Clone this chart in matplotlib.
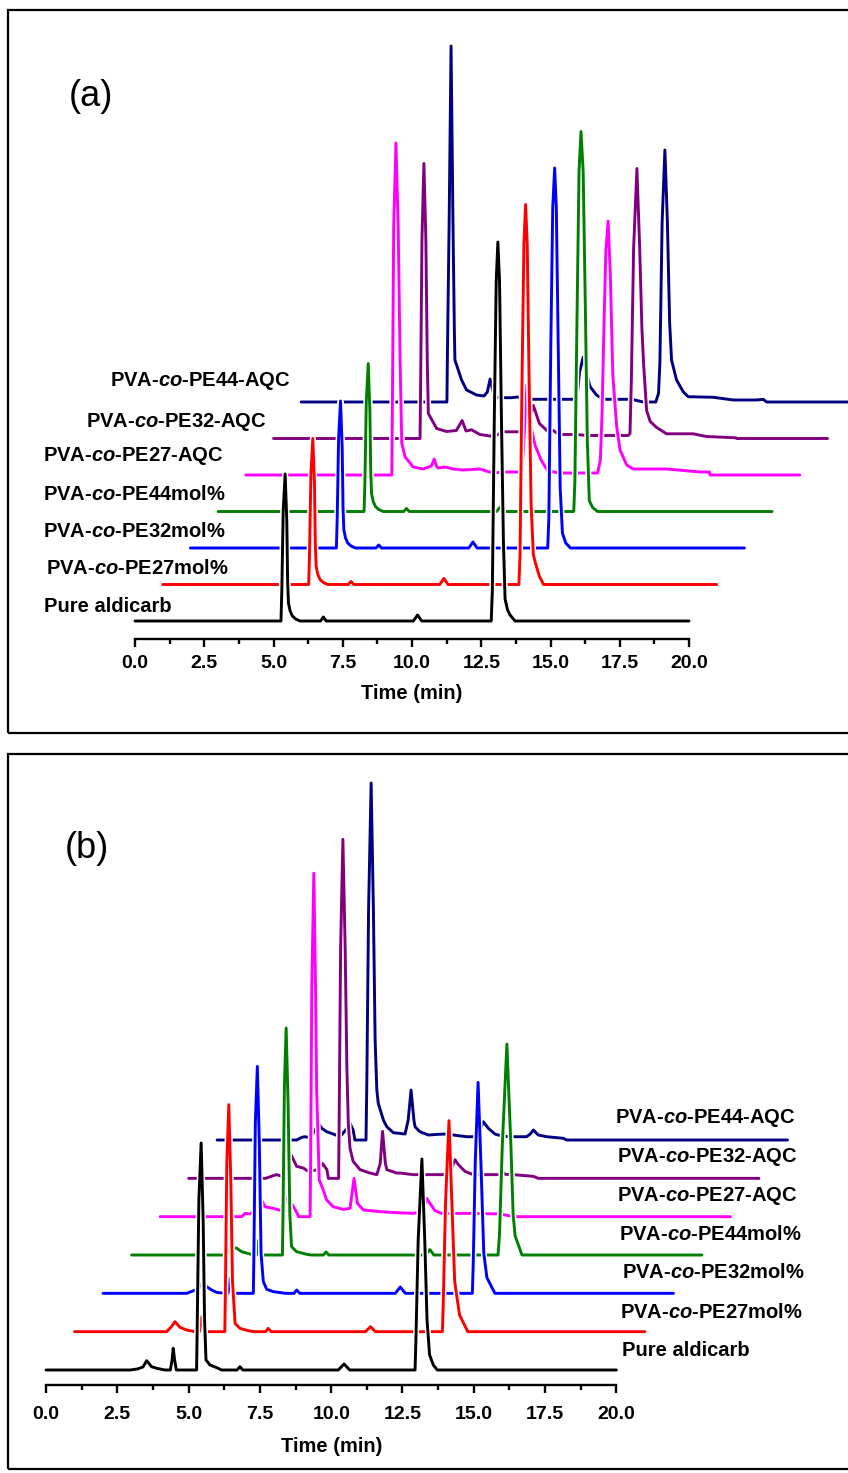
import numpy as np
import matplotlib.pyplot as plt
import matplotlib.patheffects as pe
from matplotlib.patches import Rectangle

plt.rcParams['font.family'] = ['Liberation Sans', 'DejaVu Sans']
plt.rcParams['font.weight'] = 'bold'
plt.rcParams['mathtext.fontset'] = 'custom'
plt.rcParams['mathtext.it'] = 'Liberation Sans:italic:bold'
plt.rcParams['mathtext.rm'] = 'Liberation Sans:bold'

# sample names, bottom trace first
samples = ['Pure aldicarb', 'PVA-$\\mathit{co}$-PE27mol%', 'PVA-$\\mathit{co}$-PE32mol%',
           'PVA-$\\mathit{co}$-PE44mol%', 'PVA-$\\mathit{co}$-PE27-AQC',
           'PVA-$\\mathit{co}$-PE32-AQC', 'PVA-$\\mathit{co}$-PE44-AQC']
colors = ['#000000', '#ff0000', '#0000ff', '#008000', '#ff00ff', '#800080', '#000080']

# ---- panel (a): time (min), signal (a.u.) ----
a_pure_t = [0, 5.27, 5.30, 5.35, 5.42, 5.48, 5.51, 5.54, 5.60, 5.68, 5.80, 5.96, 6.70, 6.80, 6.90,
            10.05, 10.20, 10.35, 12.86, 12.90, 12.97, 13.04, 13.10, 13.16, 13.23, 13.30, 13.36, 13.45, 13.54, 13.72, 20]
a_pure_y = [0, 0, 30, 110, 147, 100, 40, 18, 10, 5, 2, 0, 0, 4, 0,
            0, 6, 0, 0, 30, 200, 340, 379, 340, 200, 80, 22, 11, 6, 0, 0]
a_pe27_t = [0, 5.27, 5.30, 5.35, 5.42, 5.48, 5.51, 5.54, 5.60, 5.68, 5.80, 5.96, 6.70, 6.80, 6.90,
            10.0, 10.15, 10.3, 12.86, 12.90, 12.97, 13.04, 13.10, 13.16, 13.23, 13.30, 13.38, 13.45, 13.60, 13.75, 20]
a_pe27_y = [0, 0, 30, 110, 146, 100, 40, 18, 10, 5, 2, 0, 0, 3, 0,
            0, 6, 0, 0, 30, 200, 340, 380, 340, 200, 80, 30, 22, 8, 0, 0]
a_pe32_t = [0, 5.27, 5.30, 5.35, 5.42, 5.48, 5.51, 5.54, 5.60, 5.68, 5.80, 5.96, 6.70, 6.80, 6.90,
            10.05, 10.20, 10.35, 12.90, 12.94, 13.01, 13.08, 13.15, 13.21, 13.28, 13.35, 13.43, 13.55, 13.72, 20]
a_pe32_y = [0, 0, 30, 110, 147, 100, 40, 18, 10, 5, 2, 0, 0, 3, 0,
            0, 6, 0, 0, 30, 200, 340, 380, 340, 200, 60, 15, 5, 0, 0]
a_pe44_t = [0, 5.27, 5.30, 5.35, 5.42, 5.48, 5.51, 5.54, 5.60, 5.68, 5.80, 5.96, 6.70, 6.80, 6.90,
            10.05, 10.20, 10.35, 12.84, 12.88, 12.96, 13.03, 13.10, 13.18, 13.26, 13.33, 13.40, 13.52, 13.70, 20]
a_pe44_y = [0, 0, 30, 110, 148, 100, 40, 18, 10, 5, 2, 0, 0, 3, 0,
            0, 5, 0, 0, 30, 200, 340, 380, 340, 200, 70, 11, 4, 0, 0]
a_aqc27_t = [0, 5.27, 5.29, 5.34, 5.42, 5.50, 5.57, 5.63, 5.75, 5.93, 6.04, 6.40, 6.70, 6.80, 6.88,
             6.94, 7.19, 7.48, 7.84, 8.45, 8.92, 9.30, 9.97, 10.05, 10.15, 10.26, 10.44, 10.66, 10.90,
             11.34, 11.88, 12.40, 12.70, 12.80, 12.86, 12.93, 13.00, 13.08, 13.16, 13.25, 13.39, 13.51,
             13.75, 13.99, 15.19, 16.40, 16.74, 16.76, 20]
a_aqc27_y = [0, 0, 60, 250, 332, 250, 115, 32, 18, 12, 8, 6, 9, 16, 9,
             7, 8, 6, 5, 6, 2, 3, 3, 40, 90, 53, 30, 15, 4,
             2, 2, 2, 2, 15, 60, 150, 225, 254, 200, 100, 48, 25,
             10, 6, 6, 3, 3, 0, 0]
a_aqc32_t = [0, 5.29, 5.31, 5.36, 5.43, 5.50, 5.55, 5.59, 5.89, 6.25, 6.60, 6.81, 6.95, 7.15, 7.45,
             7.94, 8.30, 8.90, 9.20, 9.38, 9.60, 9.92, 10.10, 10.30, 10.95, 11.30, 12.80, 12.87, 12.92,
             13.00, 13.12, 13.22, 13.30, 13.36, 13.47, 13.60, 13.83, 14.19, 15.15, 15.63, 16.70, 16.72, 20]
a_aqc32_y = [0, 0, 50, 200, 275, 200, 80, 25, 10, 7, 8, 18, 7.5, 8.7, 4,
             2, 6.7, 6.7, 15, 33, 15, 6.7, 8, 4, 4, 3, 3, 5, 60,
             190, 270, 190, 110, 75, 28, 17, 11, 4.7, 4.7, 2, 0.7, 0, 0]
a_aqc44_t = [0, 5.26, 5.28, 5.34, 5.41, 5.48, 5.53, 5.55, 5.67, 5.79, 5.97, 6.33, 6.60, 6.72, 6.82,
             6.94, 7.05, 7.30, 7.60, 7.80, 8.30, 9.95, 10.05, 10.18, 10.30, 10.43, 10.66, 10.90, 11.93,
             12.35, 12.80, 12.90, 12.95, 13.03, 13.13, 13.22, 13.30, 13.37, 13.55, 13.79, 13.97, 14.88,
             15.60, 16.44, 16.68, 16.80, 20]
a_aqc44_y = [0, 0, 50, 178, 356, 178, 70, 42, 32, 22, 12, 7, 6, 10, 23,
             8.7, 4.7, 4.3, 4.3, 5, 2.7, 2.7, 30, 45, 28.7, 15.3, 7, 2.7, 2.7,
             0, 0, 8.7, 40, 180, 252, 180, 80, 42, 22, 10.3, 5.3, 4.7,
             2, 2, 2.7, 0, 0]

# ---- panel (b) ----
b_pure_t = [0, 2.95, 3.20, 3.40, 3.53, 3.70, 3.88, 4.17, 4.36, 4.42, 4.46, 4.51, 4.57, 5.28, 5.30,
            5.36, 5.44, 5.51, 5.56, 5.61, 5.75, 5.99, 6.16, 6.70, 6.80, 6.90, 10.25, 10.45, 10.65,
            12.94, 12.97, 13.05, 13.18, 13.28, 13.36, 13.45, 13.58, 13.72, 20]
b_pure_y = [0, 0, 1, 3, 9.3, 3.3, 1.7, 0, 0, 10, 21.7, 10, 0, 0, 40,
            170, 227, 150, 50, 10, 5, 2.3, 0, 0, 3.3, 0, 0, 6, 0,
            0, 30, 130, 211, 130, 50, 15, 5, 0, 0]
b_pe27_t = [0, 3.23, 3.40, 3.52, 3.70, 3.93, 4.22, 4.38, 4.46, 4.55, 5.27, 5.29, 5.34, 5.41, 5.48,
            5.54, 5.63, 5.80, 6.09, 6.30, 6.70, 6.79, 6.90, 10.20, 10.38, 10.55, 12.90, 12.93, 13.01,
            13.13, 13.23, 13.33, 13.50, 13.79, 20]
b_pe27_y = [0, 0, 5, 10, 4.3, 1.7, 0, 0, 15, 0, 0, 40, 170, 227, 150,
            50, 8.3, 3.3, 1, 0, 0, 3.3, 0, 0, 5, 0, 0, 30, 130,
            211, 130, 50, 16.7, 0, 0]
b_pe32_t = [0, 2.93, 3.30, 3.49, 3.63, 3.81, 3.98, 4.28, 4.38, 4.46, 4.55, 5.27, 5.29, 5.34, 5.41,
            5.48, 5.54, 5.62, 5.74, 5.97, 6.40, 6.70, 6.79, 6.90, 10.25, 10.42, 10.60, 12.95, 12.98,
            13.05, 13.15, 13.25, 13.35, 13.46, 13.74, 20]
b_pe32_y = [0, 0, 4, 10, 6.7, 3.3, 1, 0, 0, 15, 0, 0, 40, 170, 227,
            150, 40, 11.7, 4, 1.7, 0, 0, 3.3, 0, 0, 6.3, 0, 0, 30,
            130, 211, 130, 40, 15.7, 0, 0]
b_pe44_t = [0, 3.30, 3.45, 3.69, 3.86, 4.15, 4.27, 4.38, 4.46, 4.55, 5.29, 5.31, 5.36, 5.42, 5.49,
            5.55, 5.61, 5.79, 6.14, 6.30, 6.72, 6.82, 6.92, 10.30, 10.46, 10.60, 12.85, 12.90, 13.00,
            13.16, 13.30, 13.38, 13.45, 13.69, 20]
b_pe44_y = [0, 0, 8, 6.7, 3.3, 1, 0, 0, 15, 0, 0, 40, 170, 227, 150,
            40, 8.3, 3.3, 0.7, 0, 0, 3, 0, 0, 5.4, 0, 0, 20, 110,
            211, 110, 40, 19, 0, 0]
b_aqc27_t = [0, 2.86, 2.98, 3.15, 3.30, 3.50, 3.68, 3.97, 4.26, 4.45, 4.60, 4.72, 4.83, 4.85, 5.26,
             5.28, 5.32, 5.39, 5.45, 5.49, 5.58, 5.72, 5.84, 6.07, 6.42, 6.66, 6.80, 6.92, 7.13, 7.71,
             8.30, 8.87, 9.20, 9.35, 9.46, 9.64, 9.87, 10.93, 11.93, 12.38, 20]
b_aqc27_y = [0, 0, 3.3, 2.7, 6, 20, 10, 8.3, 6, 20, 13.3, 8, 2, 0, 0,
             60, 230, 343.5, 230, 126.7, 36.7, 26.7, 16.7, 10, 7.3, 8.3, 38.3, 13.3, 6.7, 5,
             4, 3.3, 5, 18.3, 13.3, 6, 3.3, 3.3, 2.7, 0, 0]
b_aqc32_t = [0, 2.70, 2.97, 3.09, 3.26, 3.40, 3.59, 3.79, 4.02, 4.20, 4.40, 4.55, 4.70, 4.85, 4.90,
             5.26, 5.28, 5.33, 5.41, 5.49, 5.55, 5.60, 5.66, 5.77, 6.01, 6.36, 6.60, 6.72, 6.80, 6.90,
             6.95, 7.30, 7.41, 7.88, 8.93, 9.20, 9.34, 9.46, 9.69, 9.98, 10.92, 10.98, 11.10, 11.38,
             12.09, 12.26, 20]
b_aqc32_y = [0, 0, 2.7, 3.7, 2, 8, 23.7, 12, 10.3, 7, 8, 8.7, 14.7, 8.7, 0,
             0, 60, 230, 339, 230, 110, 55, 30, 17, 8.7, 5.3, 3.7, 15, 47, 15,
             8.7, 5.3, 5.3, 3.7, 3.7, 8, 18.7, 13.7, 7, 3.7, 3.7, 7, 4, 3.7,
             2, 0, 0]
b_aqc44_t = [0, 2.79, 2.97, 3.08, 3.26, 3.40, 3.55, 3.67, 3.84, 4.07, 4.31, 4.45, 4.60, 4.66, 4.77,
             4.83, 5.22, 5.25, 5.31, 5.40, 5.48, 5.54, 5.60, 5.65, 5.83, 5.95, 6.18, 6.59, 6.70, 6.80,
             6.90, 6.94, 7.11, 7.41, 7.76, 8.05, 8.28, 8.75, 9.04, 9.20, 9.33, 9.51, 9.74, 9.98, 10.27,
             10.85, 10.98, 11.09, 11.26, 11.56, 12.14, 12.26, 20]
b_aqc44_y = [0, 0, 2.7, 3.3, 2.3, 8, 16.7, 11.7, 8.3, 6, 3.3, 8, 13.3, 16.7, 10,
             0, 0, 60, 230, 357, 230, 100, 50, 36.7, 20, 13.3, 7.3, 6, 20, 50,
             20, 13.3, 8.3, 5, 5.7, 6, 5, 3.3, 3.3, 8, 18.3, 11.7, 6, 4, 3.3,
             3.3, 6, 10, 5, 3.3, 1.7, 0, 0]

a_traces = [(a_pure_t, a_pure_y), (a_pe27_t, a_pe27_y), (a_pe32_t, a_pe32_y), (a_pe44_t, a_pe44_y),
            (a_aqc27_t, a_aqc27_y), (a_aqc32_t, a_aqc32_y), (a_aqc44_t, a_aqc44_y)]
b_traces = [(b_pure_t, b_pure_y), (b_pe27_t, b_pe27_y), (b_pe32_t, b_pe32_y), (b_pe44_t, b_pe44_y),
            (b_aqc27_t, b_aqc27_y), (b_aqc32_t, b_aqc32_y), (b_aqc44_t, b_aqc44_y)]

W, H = 848, 1473
fig = plt.figure(figsize=(W / 100, H / 100), dpi=100)


def panel(traces, x0, xs, base, dy, top, bottom, spine, pad, time_off, label_pos, tag, tag_pos):
    # axes spans the framed box; data y is in pixel-sized units above the black baseline
    ax = fig.add_axes([8 / W, 1 - bottom / H, (W - 8) / W, (bottom - top) / H])
    ax.set_xlim((8 - x0) / xs, (W - x0) / xs)
    ax.set_ylim(base - bottom, base - top)
    ax.patch.set_visible(False)
    lw = 2.1
    for i in range(len(traces) - 1, -1, -1):
        t, y = traces[i]
        ax.plot(np.array(t) + i, np.array(y) + i * dy, color=colors[i], lw=lw,
                solid_joinstyle='round', solid_capstyle='round', zorder=10 - i,
                path_effects=[pe.Stroke(linewidth=lw + 2.2, foreground='white'), pe.Normal()])
    for s in ['left', 'right', 'top']:
        ax.spines[s].set_visible(False)
    ax.spines['bottom'].set_bounds(0, 20)
    ax.spines['bottom'].set_position(('data', base - spine))
    ax.spines['bottom'].set_linewidth(1.7)
    ax.set_xticks(np.arange(0, 20.01, 2.5))
    ax.set_xticks(np.arange(1.25, 20, 2.5), minor=True)
    ax.set_xticklabels(['%.1f' % v for v in np.arange(0, 20.01, 2.5)])
    ax.tick_params(axis='x', which='major', direction='out', length=6, width=1.7,
                   labelsize=14, pad=pad)
    ax.tick_params(axis='x', which='minor', direction='out', length=3.5, width=1.7)
    ax.set_yticks([])
    ax.text(10, base - spine - time_off, 'Time (min)', ha='center', va='center', fontsize=14.5)
    for name, (px, py) in zip(samples, label_pos):
        fig.text(px / W, 1 - py / H, name, ha='left', va='center', fontsize=14.5)
    fig.text(tag_pos[0] / W, 1 - tag_pos[1] / H, tag, ha='center', va='center',
             fontsize=26, fontweight='normal')
    fig.add_artist(Rectangle((8 / W, 1 - bottom / H), 1.0, (bottom - top) / H,
                             transform=fig.transFigure, fill=False, lw=1.6, ec='black'))
    return ax


panel(a_traces, 135, 27.7, 621, 36.5, 10, 733, 639.5, 5, 54,
      [(44, 606), (46, 569), (43, 531), (43, 494), (43, 456), (86, 422), (110, 381)],
      '(a)', (91, 97))
panel(b_traces, 46, 28.52, 1370, 38.33, 754, 1469, 1385, 9, 61,
      [(622, 1350), (620, 1312), (622, 1273), (619, 1235), (617, 1196), (617, 1157), (615, 1118)],
      '(b)', (87, 848))

fig.savefig('out.png', dpi=100)
